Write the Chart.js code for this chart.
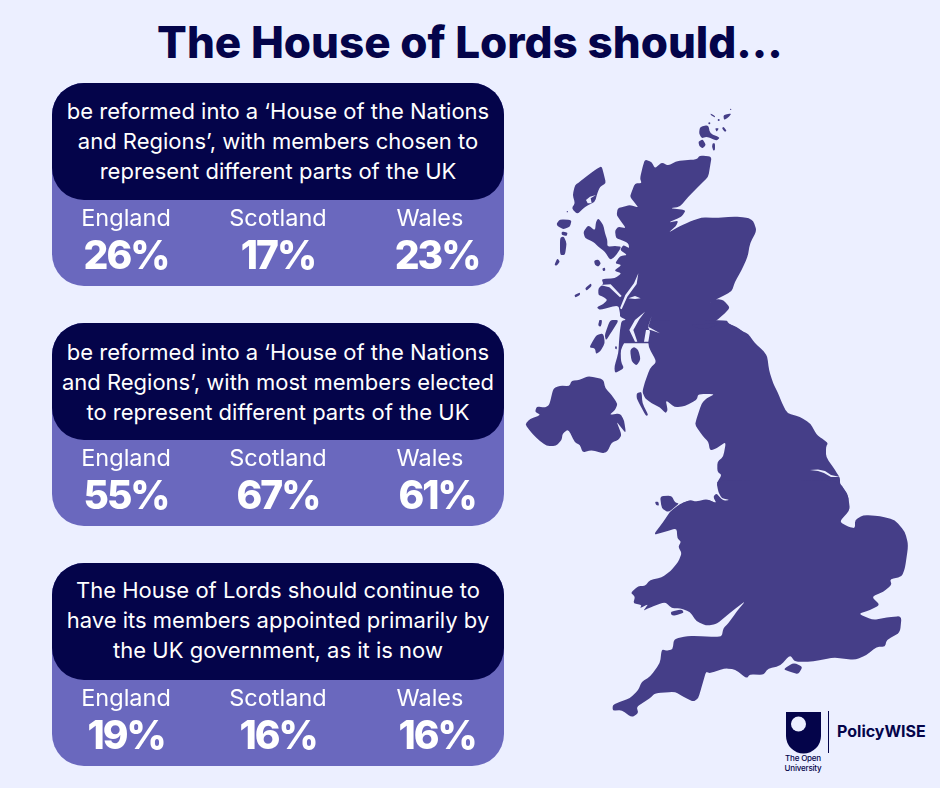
<!DOCTYPE html>
<html lang="en">
<head>
<meta charset="utf-8">
<title>The House of Lords should...</title>
<script src="https://cdn.jsdelivr.net/npm/chart.js@4"></script>
<style>
  html, body { margin: 0; padding: 0; }
  body { width: 940px; height: 788px; background: #ecefff; position: relative; overflow: hidden; font-family: Inter, sans-serif; }
  h1 { position: absolute; left: 0; top: 12px; width: 940px; margin: 0; text-align: center; color: #04044a; font-size: 44px; line-height: 60px; font-weight: 800; }
  .panel { position: absolute; left: 52px; width: 452px; height: 203px; background: #6a68be; border-radius: 32px; }
  .head { position: absolute; left: 0; top: 0; width: 452px; height: 117px; background: #04044a; border-radius: 32px; color: #fff; text-align: center; font-size: 22px; line-height: 30px; box-sizing: border-box; }
  .head span { display: block; white-space: nowrap; }
  canvas.vals { position: absolute; left: -2px; top: 117px; }
  svg { position: absolute; left: 0; top: 0; }
  .brand { position: absolute; color: #04044a; white-space: nowrap; }
</style>
</head>
<body>
<h1>The House of Lords should...</h1>

<svg width="940" height="788" viewBox="0 0 940 788">
  <g fill="#453e88" class="land">
    <!-- Scotland and the islands -->
    <g transform="translate(520 100) scale(0.33333)">
      <polygon points="375,178 395,186 405,205 425,187 445,197 470,183 530,178 540,166 575,170 570,200 565,230 540,255 505,290 480,320 450,325 498,330 485,350 445,368 475,362 468,378 445,398 480,378 510,365 545,352 590,354 640,350 680,352 700,362 710,392 690,430 683,470 665,510 645,545 635,575 600,592 565,612 590,597 610,600 630,622 615,640 585,665 550,682 510,674 550,688 590,684 615,668 650,680 675,700 690,730 385,730 340,730 300,730 300,690 320,660 300,650 300,640 295,615 240,630 230,622 250,612 262,600 250,590 235,585 235,565 250,552 245,537 285,535 305,520 282,512 305,495 285,490 300,468 322,465 300,450 310,435 328,445 325,430 305,420 288,415 285,392 295,380 318,385 300,360 290,345 293,325 310,320 330,315 355,322 345,310 330,290 335,275 345,250 365,250 360,235 368,200"/>
      <polygon points="245,198 252,225 258,250 240,260 232,280 225,305 195,320 172,343 155,325 165,310 158,285 165,255 180,245 195,232 225,210"/>
      <polygon points="110,370 120,358 155,360 150,380 130,388 112,378"/>
      <polygon points="125,395 143,397 140,408 125,405"/>
      <polygon points="120,412 132,410 140,430 135,465 120,465"/>
      <polygon points="103,495 112,475 120,485 110,497"/>
      <polygon points="235,355 250,375 255,400 262,420 262,440 285,438 305,440 285,470 270,480 255,455 235,440 220,425 195,415 190,395 205,375 225,392 228,365"/>
      <polygon points="222,482 235,478 243,490 235,500 225,495"/>
      <polygon points="247,505 255,503 256,512 249,513"/>
      <polygon points="195,565 213,550 215,558 200,572"/>
      <polygon points="163,585 180,577 180,585 166,593"/>
      <polygon points="238,660 245,660 243,680 235,678"/>
      <polygon points="540,80 565,75 570,100 600,113 590,122 560,110 545,115 537,100"/>
      <polygon points="535,125 548,118 558,135 548,145 538,138"/>
      <polygon points="578,130 585,130 585,150 580,152 576,140"/>
      <polygon points="610,80 620,92 615,96 606,85"/>
      <polygon points="572,40 585,48 585,53 572,45"/>
      <polygon points="610,45 635,40 625,52 612,60"/>
      <polygon points="585,85 597,85 590,95"/>
      <circle cx="568" cy="70" r="3"/><circle cx="596" cy="60" r="3"/><circle cx="632" cy="28" r="2"/><circle cx="142" cy="335" r="2"/>
    </g>
    <!-- Southern Scotland, Northern Ireland and northern England -->
    <g transform="translate(520 320) scale(0.33333)">
      <polygon points="385,0 620,0 625,10 660,30 685,42 705,70 730,92 742,110 747,150 759,189 774,219 786,249 801,279 840,291 870,309 891,345 900,351 924,369 918,381 918,411 945,450 960,474 960,492 981,519 987,540 965,600 520,600 480,552 510,540 530,545 560,537 590,550 580,530 590,520 610,548 630,540 605,535 595,515 590,490 605,465 592,455 592,425 610,410 618,365 590,385 570,392 565,365 550,350 525,315 530,295 545,250 560,235 585,222 535,222 530,240 495,258 465,262 437,240 443,270 437,280 420,262 395,250 375,235 367,215 375,185 390,145 410,125 385,80 385,40"/>
      <polygon points="600,10 512,14 530,24 560,28"/>
      <polygon points="350,220 365,215 367,250 385,285 378,288 360,255 350,235"/>
      <polygon points="345,0 332,28 318,58 302,90 303,125 312,145 285,160 283,140 295,100 297,65 300,30 305,0"/>
      <polygon points="345,0 385,0 382,28 360,35 345,50 336,35"/>
      <polygon points="270,0 297,0 275,35 258,62 254,45"/>
      <polygon points="250,40 255,70 240,95 228,102 225,85 208,82 220,60 230,45"/>
      <polygon points="238,0 246,0 243,18 235,16"/>
      <polygon points="330,90 342,80 355,90 362,118 350,137 335,125"/>
      <polygon points="286,78 291,80 290,88 285,86"/>
      <!-- Northern Ireland -->
      <polygon points="15,313 30,297 62,285 45,275 50,260 75,262 88,255 100,205 120,197 148,198 155,182 178,180 205,168 250,178 256,205 275,225 293,252 285,270 268,285 300,280 312,300 318,340 300,318 290,305 305,345 295,360 275,368 262,395 248,400 215,390 188,398 180,375 165,368 145,328 128,340 125,360 108,378 80,378 50,355 32,335"/>
    </g>
    <!-- Wales and southern England -->
    <g transform="translate(600 480) scale(0.33333)">
      <polygon points="350,0 355,25 375,50 390,60 370,62 350,42 340,50 350,70 320,58 290,70 265,62 240,72 210,95 190,125 160,165 195,155 230,145 232,175 243,185 235,200 245,220 235,245 210,275 185,292 150,300 135,318 115,318 92,338 105,350 100,370 125,375 120,385 145,372 130,392 145,385 195,365 215,385 240,385 270,395 290,425 320,437 350,432 395,395 437,362 410,395 385,430 370,445 365,470 320,470 265,467 222,477 218,508 200,512 185,508 180,550 150,590 125,605 115,630 90,655 60,665 38,675 38,692 65,690 95,712 115,700 110,680 150,655 165,640 225,635 250,650 280,665 295,655 305,620 318,575 330,580 375,565 405,568 440,595 450,583 490,585 505,565 540,558 570,525 585,545 640,545 700,532 765,540 800,525 830,500 855,500 860,480 900,458 905,408 860,412 820,420 775,402 810,390 840,375 815,350 850,335 875,315 870,298 905,290 915,265 925,195 915,155 885,120 840,108 790,105 765,120 765,145 745,140 718,125 750,90 745,50 725,15 700,0"/>
      <polygon points="550,568 580,548 608,560 595,583 570,575"/>
      <polygon points="180,48 215,47 225,68 238,70 205,97 185,85"/>
      <polygon points="165,65 175,65 177,77 168,75"/>
      <polygon points="212,395 245,388 252,398 225,407 214,405"/>
    </g>
  </g>
  <!-- inlets cut back out of the land -->
  <g fill="#ecefff">
    <g transform="translate(520 100) scale(0.33333)">
      <polygon points="355,520 342,550 316,585 300,625 305,628 322,590 350,552"/>
      <polygon points="240,555 268,562 300,592 305,588 272,553"/>
      <polygon points="325,595 345,588 362,595 345,597"/>
      <polygon points="375,635 345,660 328,690 345,725 352,725 340,690 358,658"/>
      <polygon points="395,648 385,680 420,700 392,690 378,690 372,725 385,725 390,695 384,680"/>
      <polygon points="198,300 210,290 228,285 212,295 215,310 203,310"/>
    </g>
    <polygon points="810,470 818,469.500 825,471 831,475 840,477 831,477 824,473 818,471"/>
  </g>
  <!-- The Open University mark -->
  <path d="M786 712 H821 V736 A17.500 17.500 0 0 1 786 736 Z" fill="#04044a"/>
  <circle cx="798.500" cy="724" r="7.500" fill="#ecefff"/>
  <rect x="828" y="711" width="1" height="42" fill="#04044a"/>
</svg>

<div class="brand" style="left:783px;top:754px;font-size:8px;line-height:9.500px;font-weight:500;letter-spacing:-0.2px;text-align:center;width:40px">The Open<br>University</div>
<div class="brand" style="left:837px;top:719px;font-size:16px;line-height:24px;font-weight:700">PolicyWISE</div>

<div id="panels"></div>

<script>
const regions = ['England', 'Scotland', 'Wales'];

const chosenValues = [26, 17, 23];
const electedValues = [55, 67, 61];
const appointedValues = [19, 16, 16];

const chosenLines = ['be reformed into a ‘House of the Nations', 'and Regions’, with members chosen to', 'represent different parts of the UK'];
const electedLines = ['be reformed into a ‘House of the Nations', 'and Regions’, with most members elected', 'to represent different parts of the UK'];
const appointedLines = ['The House of Lords should continue to', 'have its members appointed primarily by', 'the UK government, as it is now'];

// round off the corners of the traced coastline
function roundCoast(poly) {
  const pts = poly.getAttribute('points').trim().split(/\s+/).map(p => p.split(',').map(Number));
  const mix = (a, b, t) => [a[0] + (b[0] - a[0]) * t, a[1] + (b[1] - a[1]) * t];
  let d = '';
  pts.forEach((p, i) => {
    const prev = pts[(i + pts.length - 1) % pts.length];
    const next = pts[(i + 1) % pts.length];
    const a = mix(p, prev, 0.3), b = mix(p, next, 0.3);
    d += (i ? 'L' : 'M') + a.join(' ') + 'Q' + p.join(' ') + ' ' + b.join(' ');
  });
  const path = document.createElementNS('http://www.w3.org/2000/svg', 'path');
  path.setAttribute('d', d + 'Z');
  poly.replaceWith(path);
}
document.querySelectorAll('.land polygon').forEach(roundCoast);

// percent figures sit under the region names, Wales is nudged right in the original
const percentLabels = {
  id: 'percentLabels',
  afterDatasetsDraw(chart) {
    const { ctx, scales, chartArea } = chart;
    ctx.save();
    ctx.fillStyle = '#fff';
    ctx.font = '800 39px Inter, sans-serif';
    ctx.letterSpacing = '-2px';
    ctx.textAlign = 'center';
    ctx.textBaseline = 'middle';
    chart.data.datasets[0].data.forEach((v, i) => {
      const x = scales.x.getPixelForValue(i) + (i === 2 ? 7 : 0);
      ctx.fillText(v + '%', x, chartArea.top + 16);
    });
    ctx.restore();
  }
};

function addPanel(top, headPad, lines, values) {
  const host = document.getElementById('panels');
  const panel = document.createElement('div');
  panel.className = 'panel';
  panel.style.top = top + 'px';

  const head = document.createElement('div');
  head.className = 'head';
  head.style.paddingTop = headPad + 'px';
  lines.forEach(t => {
    const s = document.createElement('span');
    s.textContent = t;
    head.appendChild(s);
  });
  panel.appendChild(head);

  const canvas = document.createElement('canvas');
  canvas.className = 'vals';
  canvas.width = 456;
  canvas.height = 86;
  panel.appendChild(canvas);
  host.appendChild(panel);

  new Chart(canvas.getContext('2d'), {
    type: 'bar',
    data: { labels: regions, datasets: [{ data: values, backgroundColor: 'transparent' }] },
    options: {
      responsive: false,
      animation: false,
      layout: { padding: { top: 5 } },
      plugins: { legend: { display: false }, tooltip: { enabled: false } },
      scales: {
        x: {
          position: 'top',
          grid: { display: false },
          border: { display: false },
          ticks: { color: '#fff', font: { family: 'Inter, sans-serif', size: 23.5 }, padding: 0, maxRotation: 0 }
        },
        y: { display: false, min: 0, max: 100 }
      }
    },
    plugins: [percentLabels]
  });
}

addPanel(83, 13, chosenLines, chosenValues);
addPanel(323, 14, electedLines, electedValues);
addPanel(563, 12, appointedLines, appointedValues);
</script>
</body>
</html>
